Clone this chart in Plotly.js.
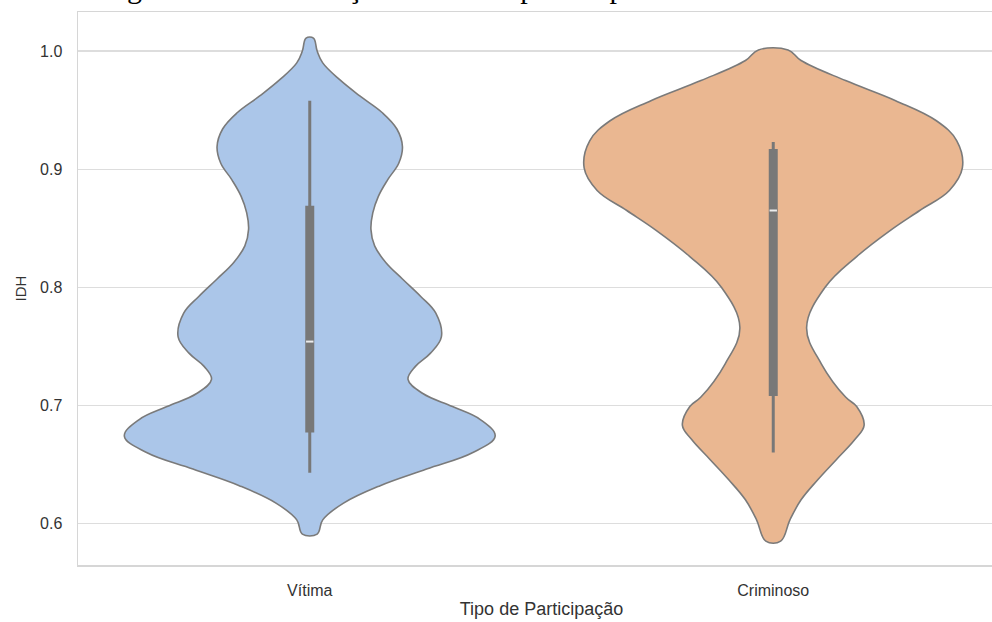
<!DOCTYPE html>
<html>
<head>
<meta charset="utf-8">
<script src="https://cdn.plot.ly/plotly-3.0.1.min.js"></script>
<style>
html,body{margin:0;padding:0;overflow:hidden;background:#fff;width:992px;height:622px;}
#chart{width:1010px;height:622px;}
</style>
</head>
<body>
<div id="chart"></div>
<script>
// ---- data ----
const categories = ['Vítima', 'Criminoso'];
const chartTitle = 'Figura 3.5: Distribuição do IDH separado por vítimas e criminosos';

// violin outline: IDH level and relative density (half-width) at that level
const vitimaIDH  = [1.011, 1.000, 0.990, 0.976, 0.962, 0.948, 0.934, 0.919, 0.905, 0.891, 0.877, 0.863, 0.849, 0.835, 0.821, 0.807, 0.792, 0.778, 0.758, 0.744, 0.733, 0.722, 0.710, 0.699, 0.688, 0.674, 0.660, 0.646, 0.632, 0.617, 0.603, 0.591];
const vitimaDens = [0.02, 0.04, 0.07, 0.16, 0.27, 0.39, 0.47, 0.50, 0.48, 0.42, 0.37, 0.34, 0.33, 0.35, 0.41, 0.50, 0.60, 0.68, 0.71, 0.65, 0.57, 0.53, 0.61, 0.77, 0.92, 1.00, 0.88, 0.63, 0.38, 0.18, 0.07, 0.04];

const criminosoIDH  = [1.001, 0.992, 0.975, 0.958, 0.941, 0.924, 0.901, 0.882, 0.865, 0.848, 0.826, 0.800, 0.766, 0.735, 0.707, 0.699, 0.683, 0.671, 0.654, 0.637, 0.620, 0.603, 0.585];
const criminosoDens = [0.08, 0.15, 0.39, 0.66, 0.88, 0.99, 1.02, 0.95, 0.79, 0.63, 0.45, 0.28, 0.18, 0.26, 0.39, 0.45, 0.49, 0.44, 0.34, 0.24, 0.15, 0.09, 0.04];

// inner box statistics, one value per category
const lowerWhisker = [0.643, 0.660];
const q1           = [0.677, 0.708];
const median       = [0.754, 0.865];
const q3           = [0.869, 0.917];
const upperWhisker = [0.958, 0.923];

const yTicks = [0.6, 0.7, 0.8, 0.9, 1.0];
const yTickText = ['0.6', '0.7', '0.8', '0.9', '1.0'];

// ---- styles ----
const fills = ['#abc6e9', '#eab791'];
const edge = '#7a7a7a';
const boxColor = '#787878';
const halfWidth = 0.4;

const outlines = [[vitimaIDH, vitimaDens], [criminosoIDH, criminosoDens]];
const traces = [];

outlines.forEach(([ys, ds], i) => {
  const xs = [], yy = [];
  for (let k = 0; k < ys.length; k++) { xs.push(i + ds[k] * halfWidth); yy.push(ys[k]); }
  for (let k = ys.length - 1; k >= 0; k--) { xs.push(i - ds[k] * halfWidth); yy.push(ys[k]); }
  xs.push(xs[0]); yy.push(yy[0]);
  traces.push({
    x: xs, y: yy, type: 'scatter', mode: 'lines',
    fill: 'toself', fillcolor: fills[i],
    line: {color: edge, width: 1.6, shape: 'spline', smoothing: 1.1},
    hoverinfo: 'skip', showlegend: false
  });
});

categories.forEach((c, i) => {
  traces.push({
    x: [i, i], y: [lowerWhisker[i], upperWhisker[i]], type: 'scatter', mode: 'lines',
    line: {color: boxColor, width: 3}, hoverinfo: 'skip', showlegend: false
  });
  traces.push({
    x: [i, i], y: [q1[i], q3[i]], type: 'scatter', mode: 'lines',
    line: {color: boxColor, width: 9}, hoverinfo: 'skip', showlegend: false
  });
  traces.push({
    x: [i - 0.008, i + 0.008], y: [median[i], median[i]], type: 'scatter', mode: 'lines',
    line: {color: '#ececec', width: 2}, hoverinfo: 'skip', showlegend: false
  });
});

const layout = {
  width: 1010, height: 622,
  margin: {l: 78, r: 5, t: 12, b: 57},
  paper_bgcolor: '#ffffff', plot_bgcolor: '#ffffff',
  font: {family: 'Liberation Sans, Arial, sans-serif', color: '#333333', size: 16},
  annotations: [{
    text: chartTitle,
    font: {family: 'Liberation Serif, Times New Roman, serif', size: 30, color: '#000000'},
    xref: 'paper', x: 0.4595, xanchor: 'center',
    yref: 'paper', y: 1.013, yanchor: 'bottom',
    showarrow: false, borderpad: 0
  }],
  xaxis: {
    range: [-0.5, 1.5],
    tickvals: [0, 1], ticktext: categories,
    ticks: 'outside', ticklen: 10, tickcolor: 'rgba(0,0,0,0)',
    showgrid: false, zeroline: false,
    showline: true, mirror: true, linecolor: '#d6d6d6', linewidth: 1.5,
    tickfont: {size: 16, color: '#333333'},
    title: {text: 'Tipo de Participação', font: {size: 18, color: '#333333'}, standoff: 4}
  },
  yaxis: {
    range: [0.5648, 1.0331],
    tickvals: yTicks, ticktext: yTickText,
    ticks: 'outside', ticklen: 11, tickcolor: 'rgba(0,0,0,0)',
    showgrid: true, gridcolor: '#dddddd', gridwidth: 1.3,
    zeroline: false,
    showline: true, mirror: true, linecolor: '#d6d6d6', linewidth: 1.5,
    tickfont: {size: 16, color: '#333333'},
    title: {text: 'IDH', font: {size: 15, color: '#333333'}, standoff: 10}
  }
};

Plotly.newPlot('chart', traces, layout, {displayModeBar: false, staticPlot: true});
</script>
</body>
</html>
